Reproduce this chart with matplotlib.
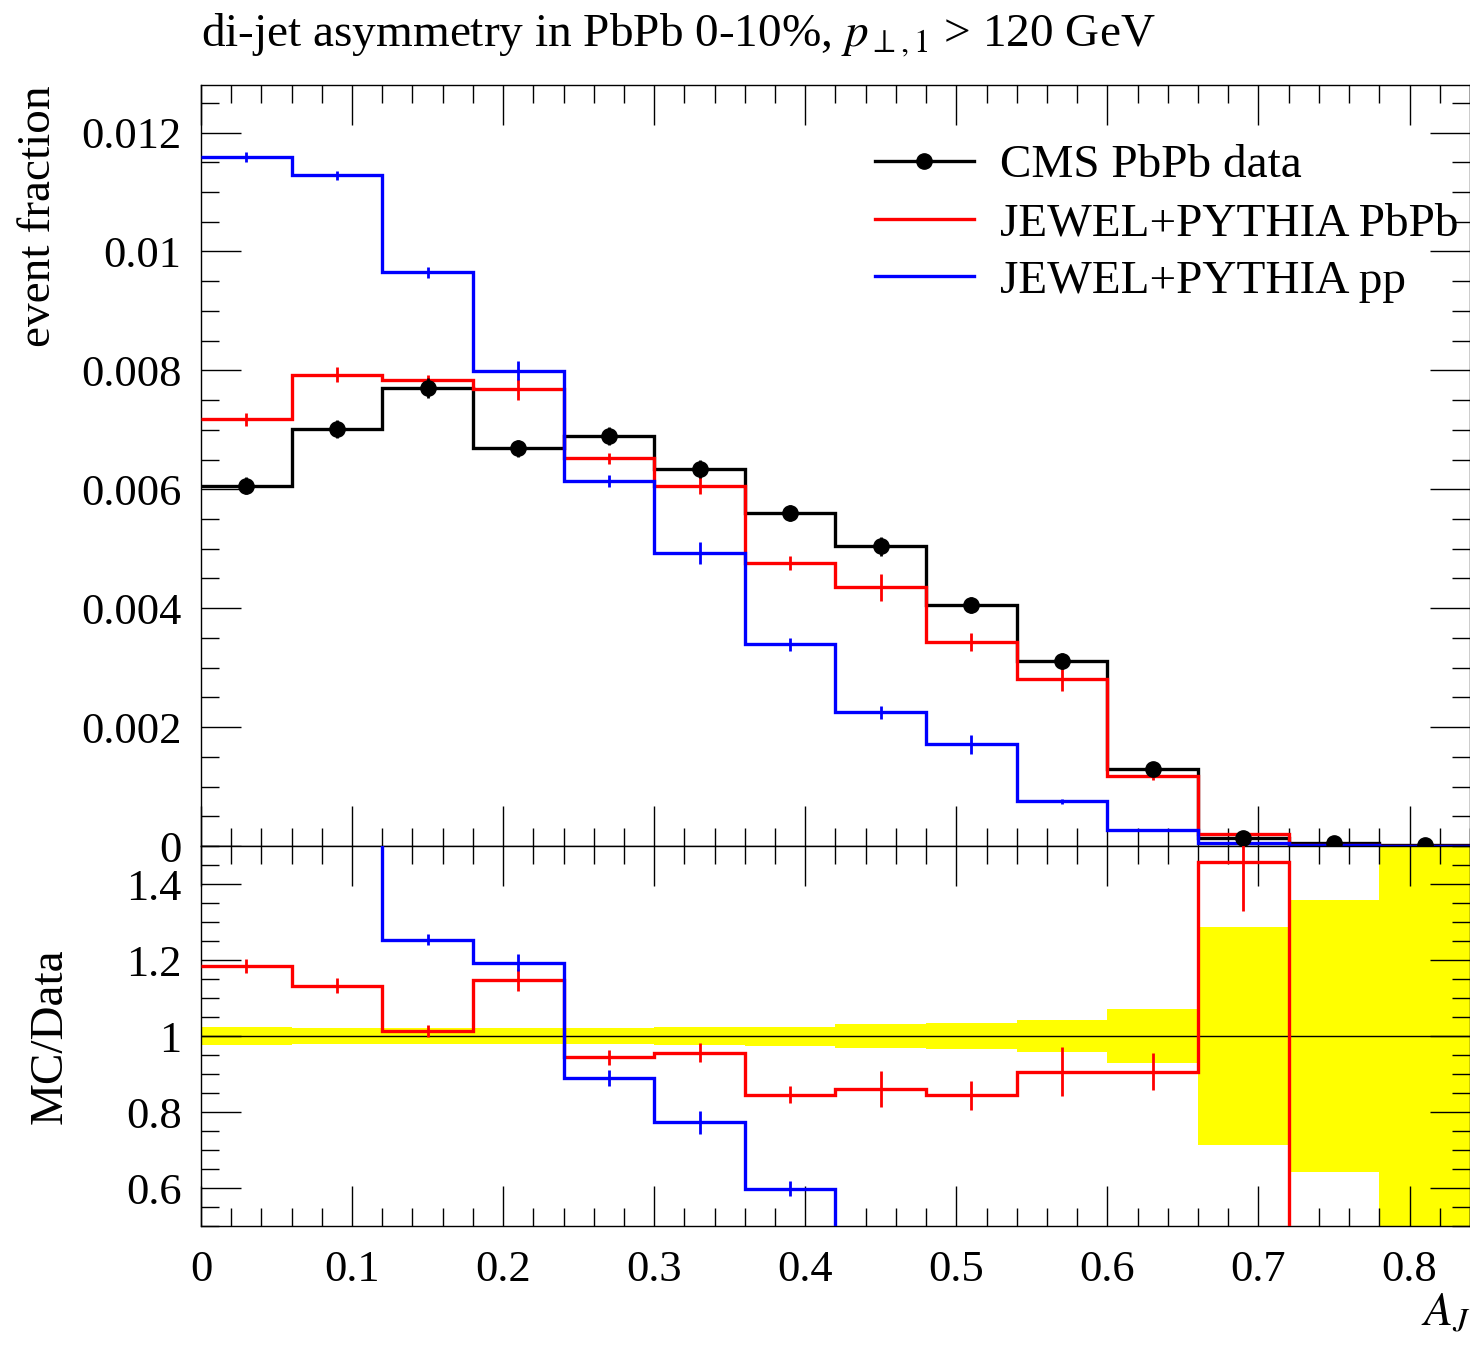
import numpy as np
import matplotlib
matplotlib.use("Agg")
import matplotlib.pyplot as plt
from matplotlib.ticker import MultipleLocator, FuncFormatter

# ======================
# data (14 bins of A_J, width 0.06)
# ======================
edges = np.round(np.arange(0, 0.8401, 0.06), 2)

cms_data = [0.00606, 0.00701, 0.00771, 0.00669, 0.00689, 0.00634, 0.00560,
            0.00504, 0.00405, 0.00311, 0.00129, 0.00014, 0.000056, 0.00001]
# relative data uncertainty (yellow band half width)
cms_relerr = [0.024, 0.022, 0.022, 0.022, 0.022, 0.024, 0.025,
              0.031, 0.034, 0.042, 0.070, 0.287, 0.359, 1.0]

jewel_pbpb = [0.00718, 0.00793, 0.00783, 0.00768, 0.00652, 0.00606, 0.00476,
              0.00435, 0.00343, 0.00281, 0.00117, 0.00020, 0.00001, 0.0]
jewel_pbpb_err = [0.00011, 0.00013, 0.00010, 0.00018, 0.00009, 0.00014, 0.00012,
                  0.00023, 0.00015, 0.00020, 0.00006, 0.00002, 0.0, 0.0]

jewel_pp = [0.01159, 0.01128, 0.00965, 0.00799, 0.00614, 0.00493, 0.00339,
            0.00225, 0.00171, 0.00075, 0.00027, 0.00005, 0.00002, 0.0]
jewel_pp_err = [0.00008, 0.00007, 0.00009, 0.00016, 0.00010, 0.00019, 0.00011,
                0.00011, 0.00016, 0.00004, 0.00002, 0.00001, 0.0, 0.0]

# MC / data ratios
ratio_pbpb = [1.185, 1.132, 1.013, 1.147, 0.944, 0.956, 0.846,
              0.861, 0.844, 0.906, 0.906, 1.459, 0.2, 0.0]
ratio_pbpb_err = [0.019, 0.020, 0.015, 0.029, 0.019, 0.025, 0.023,
                  0.047, 0.039, 0.065, 0.049, 0.13, 0.0, 0.0]
ratio_pp = [1.91, 1.61, 1.254, 1.193, 0.890, 0.773, 0.598,
            0.45, 0.42, 0.24, 0.21, 0.3, 0.35, 0.0]
ratio_pp_err = [0.02, 0.02, 0.015, 0.022, 0.021, 0.031, 0.020,
                0.0, 0.0, 0.0, 0.0, 0.0, 0.0, 0.0]

labels = ["CMS PbPb data", "JEWEL+PYTHIA PbPb", "JEWEL+PYTHIA pp"]

# ======================
# style
# ======================
plt.rcParams['font.family'] = ['Liberation Serif', 'DejaVu Serif']
plt.rcParams['mathtext.fontset'] = 'stix'

centers = 0.5 * (edges[:-1] + edges[1:])
cms_data = np.array(cms_data)
cms_relerr = np.array(cms_relerr)

fig = plt.figure(figsize=(14.7, 13.47), dpi=100)
ax = fig.add_axes([0.1367, 0.3719, 0.8633, 0.5650])
axr = fig.add_axes([0.1367, 0.0898, 0.8633, 0.2821], sharex=ax)

LW = 2.4

# ======================
# main panel
# ======================
# baseline=None -> no vertical drop at the outer edges
ax.stairs(cms_data, edges, baseline=None, color='black', lw=LW, zorder=3)
ax.errorbar(centers, cms_data, yerr=cms_data * cms_relerr, fmt='o', color='black',
            ms=11, elinewidth=2, capsize=0, zorder=4)
ax.stairs(jewel_pbpb, edges, baseline=None, color='red', lw=LW, zorder=3)
ax.errorbar(centers, jewel_pbpb, yerr=jewel_pbpb_err, fmt='none', ecolor='red',
            elinewidth=2, capsize=0, zorder=3)
ax.stairs(jewel_pp, edges, baseline=None, color='blue', lw=LW, zorder=3)
ax.errorbar(centers, jewel_pp, yerr=jewel_pp_err, fmt='none', ecolor='blue',
            elinewidth=2, capsize=0, zorder=3)

ax.set_xlim(0, 0.84)
ax.set_ylim(0, 0.0128)
ax.set_ylabel("event fraction", fontsize=34, loc='top')
ax.yaxis.set_label_coords(-0.111, 1.0)
ax.set_title(r"di-jet asymmetry in PbPb 0-10%, $p_{\perp,1}$ > 120 GeV",
             loc='left', fontsize=34, pad=28)

# legend
h_data = plt.Line2D([], [], color='black', lw=LW, marker='o', ms=11)
h_pbpb = plt.Line2D([], [], color='red', lw=LW)
h_pp = plt.Line2D([], [], color='blue', lw=LW)
ax.legend([h_data, h_pbpb, h_pp], labels, loc='upper left',
          bbox_to_anchor=(0.531, 0.922), frameon=False, fontsize=34,
          handlelength=2.1, handletextpad=0.55, labelspacing=0.31,
          borderpad=0, borderaxespad=0)

# ======================
# ratio panel
# ======================
axr.stairs(1 + cms_relerr, edges, baseline=1 - cms_relerr, fill=True,
           color='#ffff00', lw=0, zorder=1)
axr.axhline(1, color='black', lw=1.0, zorder=2)
axr.stairs(ratio_pbpb, edges, baseline=None, color='red', lw=LW, zorder=3)
axr.errorbar(centers, ratio_pbpb, yerr=ratio_pbpb_err, fmt='none', ecolor='red',
             elinewidth=2, capsize=0, zorder=3)
axr.stairs(ratio_pp, edges, baseline=None, color='blue', lw=LW, zorder=3)
axr.errorbar(centers, ratio_pp, yerr=ratio_pp_err, fmt='none', ecolor='blue',
             elinewidth=2, capsize=0, zorder=3)

axr.set_ylim(0.5, 1.5)
axr.set_ylabel("MC/Data", fontsize=34)
axr.yaxis.set_label_coords(-0.102, 0.5)
axr.set_xlabel("$A_J$", fontsize=34, loc='right', labelpad=2)

# ======================
# ticks
# ======================
fmt = FuncFormatter(lambda v, p: f"{v:g}")
for a in (ax, axr):
    a.xaxis.set_major_locator(MultipleLocator(0.1))
    a.xaxis.set_minor_locator(MultipleLocator(0.02))
    a.tick_params(which='both', direction='in', top=True, right=True,
                  width=1.0, labelsize=32)
    a.tick_params(which='major', length=29)
    a.tick_params(which='minor', length=13)
    a.tick_params(axis='x', pad=17)
    a.tick_params(axis='y', pad=14)
    a.yaxis.set_major_formatter(fmt)
    a.xaxis.set_major_formatter(fmt)
    for s in a.spines.values():
        s.set_linewidth(1.0)

ax.yaxis.set_major_locator(MultipleLocator(0.002))
ax.yaxis.set_minor_locator(MultipleLocator(0.0005))
ax.tick_params(labelbottom=False)
axr.yaxis.set_major_locator(MultipleLocator(0.2))
axr.yaxis.set_minor_locator(MultipleLocator(0.05))

fig.savefig("out.png", dpi=100)
